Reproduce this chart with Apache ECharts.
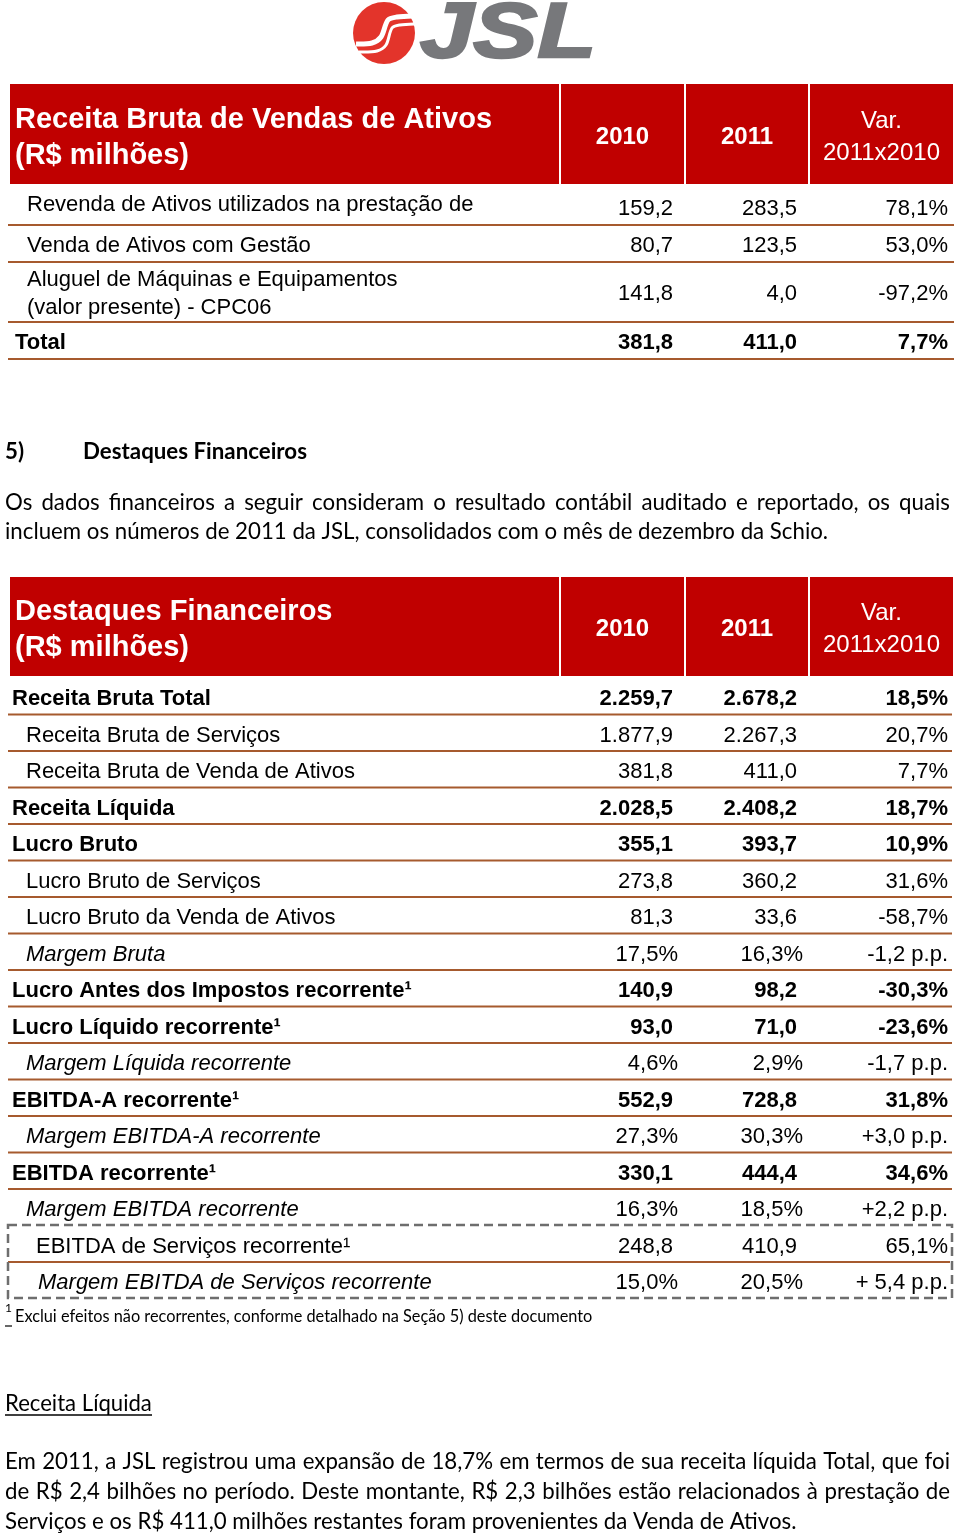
<!DOCTYPE html>
<html><head><meta charset="utf-8">
<script src="https://cdn.jsdelivr.net/npm/echarts@6/dist/echarts.min.js"></script>
<style>html,body{margin:0;padding:0;background:#fff}#c{width:960px;height:1536px}</style>
</head><body><div id="c"></div>
<script>
// ---------- DATA ----------
const t1Title = 'Receita Bruta de Vendas de Ativos\n(R$ milhões)';
const colHeads = ['2010', '2011', 'Var.\n2011x2010'];
const t1Labels = ['Revenda de Ativos utilizados na prestação de', 'Venda de Ativos com Gestão', 'Aluguel de Máquinas e Equipamentos\n(valor presente) - CPC06', 'Total'];
const t1V2010 = ['159,2', '80,7', '141,8', '381,8'];
const t1V2011 = ['283,5', '123,5', '4,0', '411,0'];
const t1Var = ['78,1%', '53,0%', '-97,2%', '7,7%'];
const t1Kinds = ['clipped', 'sub', 'sub', 'total'];

const sectionNum = '5)';
const sectionTitle = 'Destaques Financeiros';
const para1 = ['Os dados financeiros a seguir consideram o resultado contábil auditado e reportado, os quais',
  'incluem os números de 2011 da JSL, consolidados com o mês de dezembro da Schio.'];

const t2Title = 'Destaques Financeiros\n(R$ milhões)';
const t2Labels = ['Receita Bruta Total', 'Receita Bruta de Serviços', 'Receita Bruta de Venda de Ativos', 'Receita Líquida', 'Lucro Bruto', 'Lucro Bruto de Serviços', 'Lucro Bruto da Venda de Ativos', 'Margem Bruta', 'Lucro Antes dos Impostos recorrente¹', 'Lucro Líquido recorrente¹', 'Margem Líquida recorrente', 'EBITDA-A recorrente¹', 'Margem EBITDA-A recorrente', 'EBITDA recorrente¹', 'Margem EBITDA recorrente', 'EBITDA de Serviços recorrente¹', 'Margem EBITDA de Serviços recorrente'];
const t2V2010 = ['2.259,7', '1.877,9', '381,8', '2.028,5', '355,1', '273,8', '81,3', '17,5%', '140,9', '93,0', '4,6%', '552,9', '27,3%', '330,1', '16,3%', '248,8', '15,0%'];
const t2V2011 = ['2.678,2', '2.267,3', '411,0', '2.408,2', '393,7', '360,2', '33,6', '16,3%', '98,2', '71,0', '2,9%', '728,8', '30,3%', '444,4', '18,5%', '410,9', '20,5%'];
const t2Var = ['18,5%', '20,7%', '7,7%', '18,7%', '10,9%', '31,6%', '-58,7%', '-1,2 p.p.', '-30,3%', '-23,6%', '-1,7 p.p.', '31,8%', '+3,0 p.p.', '34,6%', '+2,2 p.p.', '65,1%', '+ 5,4 p.p.'];
const t2Kinds = ['main', 'sub', 'sub', 'main', 'main', 'sub', 'sub', 'margin', 'main', 'main', 'margin', 'main', 'margin', 'main', 'margin', 'boxSub', 'boxMargin'];

const footNum = '1';
const footText = 'Exclui efeitos não recorrentes, conforme detalhado na Seção 5) deste documento';
const subTitle = 'Receita Líquida';
const para2 = ['Em 2011, a JSL registrou uma expansão de 18,7% em termos de sua receita líquida Total, que foi',
  'de R$ 2,4 bilhões no período. Deste montante, R$ 2,3 bilhões estão relacionados à prestação de',
  'Serviços e os R$ 411,0 milhões restantes foram provenientes da Venda de Ativos.'];
const logoText = 'JSL';

// ---------- LAYOUT / STYLE ----------
const TF = '"Liberation Sans", Arial, sans-serif';
const BF = 'Lato, "Open Sans", sans-serif';
const RED = '#C00000';
const RULE = '#A65A2E';
const DY = 2.5; // baseline nudge for table text
const cv = document.createElement('canvas').getContext('2d');
function measure(t, font) { cv.font = font; return cv.measureText(t).width; }
function fit(t, weight, style, target) { return 100 * target / measure(t, style + ' ' + weight + ' 100px ' + BF); }

const g = [];
function txt(x, y, text, o) {
  o = o || {};
  const st = { text: text, x: 0, y: 0, fill: o.fill || '#000', fontFamily: o.family || TF, fontSize: o.size || 22,
    fontWeight: o.weight || 'normal', fontStyle: o.style || 'normal', align: o.align || 'left',
    verticalAlign: 'middle' };
  if (o.lh) st.lineHeight = o.lh;
  if (o.stroke) { st.stroke = o.stroke; st.lineWidth = o.strokeW; }
  g.push({ type: 'text', x: x, y: y, silent: true, scaleX: o.scaleX || 1, z: o.z || 5, style: st });
}
function rect(x, y, w, h, fill) { g.push({ type: 'rect', silent: true, z: 1, shape: { x: x, y: y, width: w, height: h }, style: { fill: fill } }); }
function line(x1, y1, x2, y2, stroke, lw, dash) {
  const st = { stroke: stroke, lineWidth: lw };
  if (dash) st.lineDash = dash;
  g.push({ type: 'line', silent: true, z: 2, shape: { x1: x1, y1: y1, x2: x2, y2: y2 }, style: st });
}

// Logo
g.push({ type: 'circle', silent: true, z: 1, shape: { cx: 384, cy: 33, r: 31 }, style: { fill: '#E3342B' } });
g.push({ type: 'polyline', silent: true, z: 3, shape: { points: [[413, 16], [397, 17], [388, 20], [381, 37], [372, 43], [356, 44]], smooth: 0.3 }, style: { stroke: '#fff', lineWidth: 5, fill: null } });
g.push({ type: 'polyline', silent: true, z: 3, shape: { points: [[414, 24], [400, 25], [392, 28], [386, 45], [377, 51], [359, 52]], smooth: 0.3 }, style: { stroke: '#fff', lineWidth: 3, fill: null } });
(function () {
  const f = 'italic bold 78px ' + TF;
  const w = measure(logoText, f);
  txt(420, 35, logoText, { size: 78, weight: 'bold', style: 'italic', fill: '#77787B', scaleX: 176 / w, stroke: '#77787B', strokeW: 2.5 });
})();

// Table header builder
const cols = [[561, 684], [686, 808], [810, 953]];
function header(top, bottom, title) {
  rect(10, top, 549, bottom - top, RED);
  cols.forEach(function (c, i) {
    rect(c[0], top, c[1] - c[0], bottom - top, RED);
    const cx = (c[0] + c[1]) / 2, cy = (top + bottom) / 2 + 3;
    txt(cx, cy, colHeads[i], { fill: '#fff', size: 24, weight: i < 2 ? 'bold' : 'normal', align: 'center', lh: 32 });
  });
  txt(15, (top + bottom) / 2 + 3.5, title, { fill: '#fff', size: 29, weight: 'bold', lh: 36 });
}
const R2010 = 673, R2011 = 797, RVAR = 948;
function values(y, a, b, c, bold) {
  const w = bold ? 'bold' : 'normal';
  txt(R2010 + (a.endsWith('%') ? 5 : 0), y, a, { weight: w, align: 'right' });
  txt(R2011 + (b.endsWith('%') ? 6 : 0), y, b, { weight: w, align: 'right' });
  txt(RVAR, y, c, { weight: w, align: 'right' });
}

// Table 1
header(84, 184, t1Title);
let y = 188;
t1Labels.forEach(function (lab, i) {
  const n = lab.split('\n').length;
  const h = 37 + (n - 1) * 23;
  const cy = y + h / 2 - 0.5 + DY;
  const bold = t1Kinds[i] === 'total';
  txt(bold ? 15 : 27, t1Kinds[i] === 'clipped' ? cy - 4 : cy, lab, { weight: bold ? 'bold' : 'normal', lh: 28 });
  values(cy, t1V2010[i], t1V2011[i], t1Var[i], bold);
  y += h;
  line(8, y, 954, y, RULE, 2);
});

// Section title and paragraph
const hSize = fit(sectionTitle, 'bold', 'normal', 224);
txt(5, 452, sectionNum, { family: BF, weight: 'bold', size: hSize });
txt(83, 452, sectionTitle, { family: BF, weight: 'bold', size: hSize });
const bSize = (fit(para1[1], 'normal', 'normal', 824) + fit(para2[2], 'normal', 'normal', 792)) / 2;
function justify(text, x0, x1, yy) {
  const words = text.split(' ');
  const f = 'normal normal ' + bSize + 'px ' + BF;
  const ws = words.map(function (w) { return measure(w, f); });
  const tot = ws.reduce(function (a, b) { return a + b; }, 0);
  const gap = (x1 - x0 - tot) / (words.length - 1);
  let x = x0;
  words.forEach(function (w, i) { txt(x, yy, w, { family: BF, size: bSize }); x += ws[i] + gap; });
}
justify(para1[0], 5, 950, 503);
txt(5, 532, para1[1], { family: BF, size: bSize });

// Table 2
header(577, 676, t2Title);
const rowH = 36.5, t2Top = 678.5;
const indent = { main: 12, sub: 26, margin: 26, boxSub: 36, boxMargin: 38 };
t2Labels.forEach(function (lab, i) {
  const cy = t2Top + rowH * i + rowH / 2 + DY;
  const k = t2Kinds[i];
  const bold = k === 'main';
  const italic = k === 'margin' || k === 'boxMargin';
  txt(indent[k], cy, lab, { weight: bold ? 'bold' : 'normal', style: italic ? 'italic' : 'normal' });
  values(cy, t2V2010[i], t2V2011[i], t2Var[i], bold);
  const ly = t2Top + rowH * (i + 1) - 0.5;
  if (i < 14) line(8, ly, 952, ly, RULE, 2);
  if (i === 15) line(8, ly, 950, ly, RULE, 2);
});
// dashed box around the last two rows
(function () {
  const top = t2Top + rowH * 15 - 1, bot = t2Top + rowH * 17 - 1;
  g.push({ type: 'rect', silent: true, z: 3, shape: { x: 8, y: top, width: 944, height: bot - top }, style: { fill: 'none', stroke: '#6E6E6E', lineWidth: 2.5, lineDash: [9, 5] } });
})();

// Footnote
txt(5, 1308, footNum, { family: BF, size: 12 });
line(5, 1326, 12, 1326, '#000', 1.2);
txt(15, 1317, footText, { family: BF, size: fit(footText, 'normal', 'normal', 578) });

// Receita Líquida
txt(5, 1404, subTitle, { family: BF, size: fit(subTitle, 'normal', 'normal', 147) });
line(5, 1415, 152, 1415, '#000', 1.3);
justify(para2[0], 5, 950, 1462);
justify(para2[1], 5, 950, 1492);
txt(5, 1522, para2[2], { family: BF, size: bSize });

const chart = echarts.init(document.getElementById('c'), null, { renderer: 'canvas' });
chart.setOption({ backgroundColor: '#fff', animation: false, graphic: { elements: g } });
</script></body></html>
